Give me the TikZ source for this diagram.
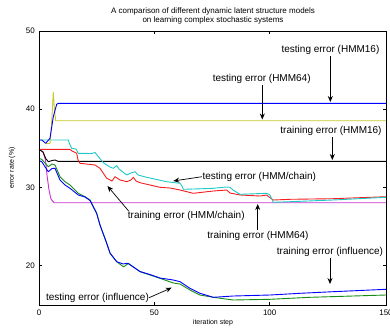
\documentclass[tikz,border=0pt]{standalone}
\usepackage{fontspec}
\setmainfont{Liberation Sans}
\usetikzlibrary{arrows.meta}
\definecolor{cblue}{RGB}{0,0,255}
\definecolor{cyel}{RGB}{200,200,40}
\definecolor{ccyan}{RGB}{30,200,200}
\definecolor{cred}{RGB}{245,30,30}
\definecolor{cmag}{RGB}{200,50,210}
\definecolor{cgreen}{RGB}{20,140,20}
\tikzset{
  curve/.style={line width=0.9pt, line join=round},
  ann/.style={font=\fontsize{10}{11}\selectfont, inner sep=0pt},
  ticklab/.style={font=\fontsize{8}{9}\selectfont, inner sep=0pt},
  smalllab/.style={font=\fontsize{7}{8}\selectfont, inner sep=0pt},
  pointer/.style={line width=0.7pt, -{Stealth[length=6pt,width=5pt]}},
  tickmark/.style={line width=0.6pt}
}
\begin{document}
\begin{tikzpicture}[x=1pt,y=-1pt]
\useasboundingbox (0,0) rectangle (390,327);
\clip (0,0) rectangle (390,327);
% title
\node[smalllab, font=\fontsize{8}{9.6}\selectfont, align=center] (title) at (213,16) {A comparison of different dynamic latent structure models\\on learning complex stochastic systems};
% curves
\draw[curve, cmag] (39,149.3) -- (43,152) -- (45.5,160) -- (47,175) -- (49,190) -- (51,199) -- (54,202.7) -- (386,202.7);
\draw[curve, black] (39,149.3) -- (43,152) -- (46,159) -- (48.5,161.7) -- (52,160.5) -- (55,160) -- (58,161.3) -- (386,161.3);
\draw[curve, cred] (39,149.3) -- (70,149.3) -- (72,151) -- (76.7,153.3) -- (78,160) -- (80,163.3) -- (95,165) -- (100,168.3) -- (106.7,178.3) -- (112,181) -- (115,176.7) -- (120,180) -- (126.7,181.7) -- (131,180) -- (133.3,177.3) -- (136,181) -- (140,182.7) -- (150,185) -- (160,187.3) -- (170,188) -- (180,190) -- (193.3,193.3) -- (213.3,191) -- (226.7,190) -- (230,193) -- (240,195) -- (260,196) -- (266.7,195) -- (269,197) -- (273.3,200) -- (290,199.3) -- (333,198.7) -- (386,196.7);
\draw[curve, ccyan] (39,140) -- (68.3,140) -- (70,145) -- (71.7,148.3) -- (76,149) -- (78.3,153.3) -- (92,153.5) -- (95,152.5) -- (97,155) -- (103.3,162.7) -- (110,167) -- (113.3,168.3) -- (116.7,165.5) -- (119,169) -- (126.7,175) -- (131,173) -- (135,171.7) -- (138,175) -- (146.7,177.3) -- (166.7,181.7) -- (180,183.3) -- (182,186) -- (183.3,189.3) -- (200,188.8) -- (213.3,188.3) -- (226,187) -- (230,187.3) -- (233,190) -- (240,194.3) -- (266.7,193.3) -- (270,195) -- (273.3,202.3) -- (290,201.7) -- (333,200) -- (386,197.3);
\draw[curve, cyel] (46,143.5) -- (50,143.5) -- (51.5,125) -- (53.3,92.3) -- (54.5,110) -- (55.7,120.7) -- (386,120.7);
\draw[curve, cblue] (39,140) -- (41.7,140) -- (45.7,143.3) -- (50,138.3) -- (53.3,116.7) -- (56.7,104.3) -- (58.3,103.3) -- (386,103.3);
\draw[curve, cgreen] (39,158.5) -- (41.7,159.3) -- (48.3,166.7) -- (52,164) -- (55,165) -- (60,176.7) -- (65,181.7) -- (70,185) -- (78.3,193.3) -- (85,196.7) -- (90,200) -- (96.7,213.3) -- (100,225) -- (106.7,243) -- (110,253.3) -- (116.7,261.7) -- (123.3,266.7) -- (125,266) -- (128.3,263.3) -- (140,271.7) -- (150,275) -- (160,278.3) -- (173.3,283) -- (180,284) -- (190,290) -- (200,295) -- (213.3,297.3) -- (233.3,300) -- (270,299.3) -- (310,297.3) -- (386,295);
\draw[curve, cblue] (39,160.5) -- (41.7,161.7) -- (48.3,171.7) -- (52,168.5) -- (55,168.3) -- (60,180) -- (65,185) -- (70,188.3) -- (78.3,195) -- (85,197) -- (90,200.5) -- (96.7,213.5) -- (100,225) -- (106.7,243.3) -- (110,253) -- (116.7,261.7) -- (123.3,264) -- (126.7,263.3) -- (128.3,263.6) -- (140,271.5) -- (150,274.5) -- (160,278) -- (173.3,280) -- (180,281.7) -- (190,288.3) -- (200,293.3) -- (213.3,297.3) -- (233.3,296) -- (270,295) -- (300,293.3) -- (333,291.7) -- (386,289.3);
% frame and ticks
\draw[line width=1pt] (39,31) rectangle (386,305);
\foreach \yy in {31,109.2,187.4,265.6}{
  \draw[tickmark] (39,\yy) -- (42,\yy);
  \draw[tickmark] (386,\yy) -- (383,\yy);
}
\foreach \xx in {154.3,269.7}{
  \draw[tickmark] (\xx,305) -- (\xx,302);
  \draw[tickmark] (\xx,31) -- (\xx,34);
}
% tick labels
\node[ticklab, anchor=east] (y50) at (35,31) {50};
\node[ticklab, anchor=east] (y40) at (35,109.2) {40};
\node[ticklab, anchor=east] (y30) at (35,187.4) {30};
\node[ticklab, anchor=east] (y20) at (35,265.6) {20};
\node[ticklab] (x0) at (39,313) {0};
\node[ticklab] (x50) at (154.3,313) {50};
\node[ticklab] (x100) at (269.7,313) {100};
\node[ticklab] (x150) at (386,313) {150};
\node[smalllab] (xlab) at (213,323) {iteration step};
\node[smalllab, rotate=90] (ylab) at (12,168) {error rate (\%)};
% annotations
\node[ann] (l1) at (330.5,50) {testing error (HMM16)};
\node[ann] (l2) at (261.7,79) {testing error (HMM64)};
\node[ann] (l3) at (331,131) {training error (HMM16)};
\node[ann] (l4) at (259.3,176.7) {testing error (HMM/chain)};
\node[ann] (l5) at (186.3,216) {training error (HMM/chain)};
\node[ann] (l6) at (258,236) {training error (HMM64)};
\node[ann] (l7) at (330,251.7) {training error (influence)};
\node[ann] (l8) at (97.5,297.7) {testing error (influence)};
\coordinate (t1) at (330.3,102);
\coordinate (t2) at (262.3,119.5);
\coordinate (t3) at (332.3,160);
\coordinate (t4) at (173.3,181);
\coordinate (t5) at (107.5,186);
\coordinate (t6) at (257.7,204);
\coordinate (t7) at (330,284);
\coordinate (t8) at (171.7,287.7);
\draw[pointer] (l1.south -| t1) ++(0,1.5) -- (t1);
\draw[pointer] (l2.south -| t2) ++(0,1.5) -- (t2);
\draw[pointer] (l3.south -| t3) ++(0,1.5) -- (t3);
\draw[pointer] (l4.west) ++(-0.5,0) -- (t4);
\draw[pointer] (l5.north west) ++(1,0) -- (t5);
\draw[pointer] (l6.north -| t6) ++(0,-1.5) -- (t6);
\draw[pointer] (l7.south -| t7) ++(0,1.5) -- (t7);
\draw[pointer] (l8.east) ++(0,0) -- (t8);
\end{tikzpicture}
\end{document}
